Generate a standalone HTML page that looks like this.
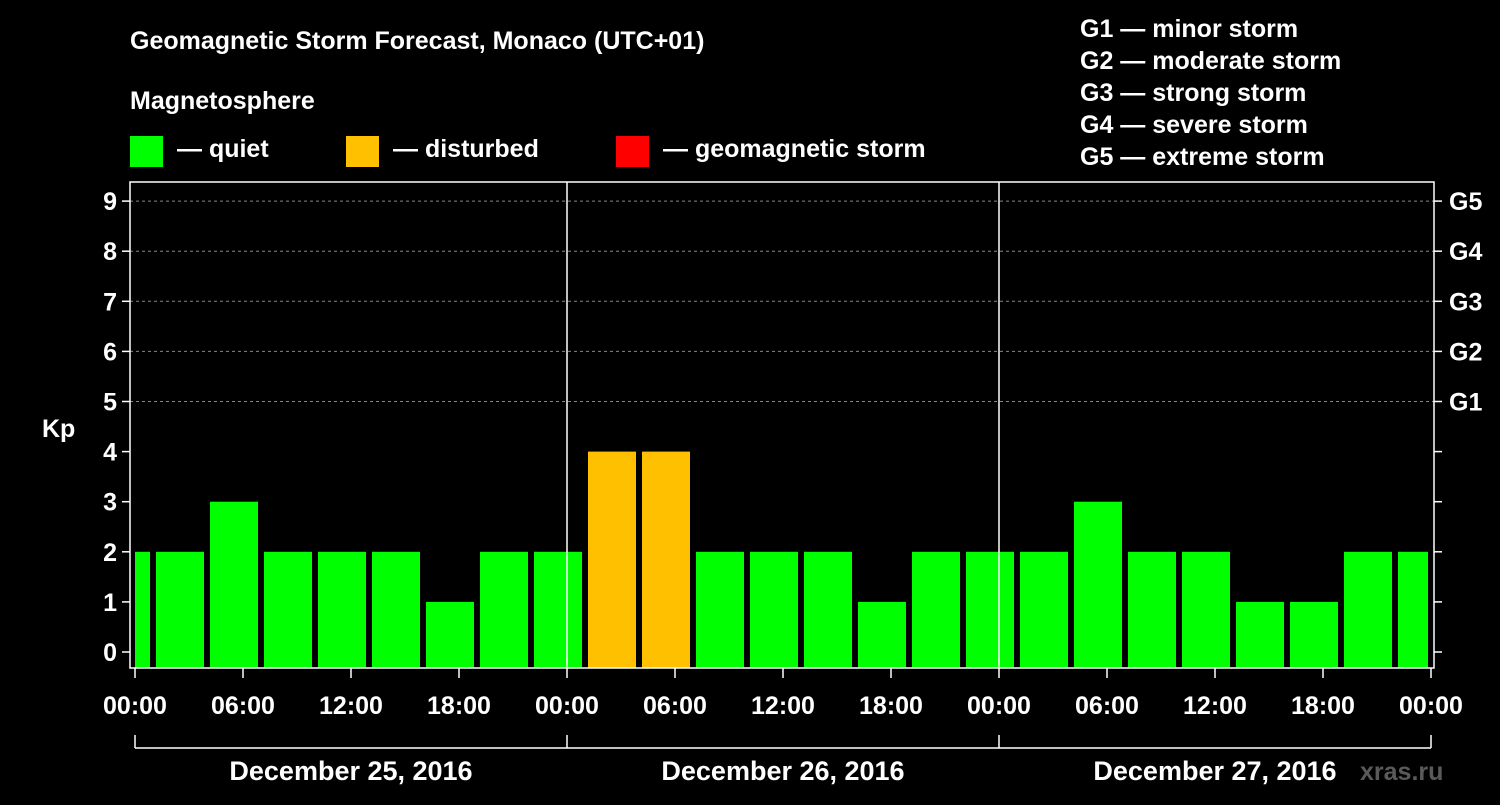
<!DOCTYPE html>
<html><head><meta charset="utf-8"><style>
body{margin:0;background:#000;width:1500px;height:800px;overflow:hidden;font-family:"Liberation Sans",sans-serif}
svg text{font-family:"Liberation Sans",sans-serif;font-weight:bold;fill:#fff}
</style></head><body>
<svg id="c" width="1500" height="800">
<text x="130" y="49" font-size="25">Geomagnetic Storm Forecast, Monaco (UTC+01)</text>
<text x="130" y="109" font-size="25">Magnetosphere</text>
<rect x="130" y="136" width="33" height="31" fill="#00ff00"/>
<text x="177" y="157" font-size="25">— quiet</text>
<rect x="346" y="136" width="33" height="31" fill="#ffc000"/>
<text x="393" y="157" font-size="25">— disturbed</text>
<rect x="616" y="136" width="33" height="31" fill="#ff0000"/>
<text x="663" y="157" font-size="25">— geomagnetic storm</text>
<g font-size="25">
<text x="1080" y="37">G1 — minor storm</text>
<text x="1080" y="69">G2 — moderate storm</text>
<text x="1080" y="101">G3 — strong storm</text>
<text x="1080" y="133">G4 — severe storm</text>
<text x="1080" y="165">G5 — extreme storm</text>
</g>
<text x="42" y="437" font-size="25">Kp</text>
<text x="1360" y="780" font-size="25" fill="#666" style="fill:#5a5a5a">xras.ru</text>
<g id="plot"></g>
</svg>
<script>
const values=[2,2,3,2,2,2,1,2,2,4,4,2,2,2,1,2,2,2,3,2,2,1,1,2,2];
const days=["December 25, 2016","December 26, 2016","December 27, 2016"];
const kpTicks=[0,1,2,3,4,5,6,7,8,9];
const gLabels=["G1","G2","G3","G4","G5"];
const timeLabels=["00:00","06:00","12:00","18:00"];
const NS="http://www.w3.org/2000/svg";
const g=document.getElementById('plot');
const X0=135,PXH=18,L=130,R=1434,T=182,B=668;
const x=h=>X0+h*PXH;
const y=v=>652-v*50.1;
function el(t,a){const e=document.createElementNS(NS,t);for(const k in a)e.setAttribute(k,a[k]);g.appendChild(e);return e;}
// grid
kpTicks.forEach(v=>{
 if(v>=5){const l=el('line',{x1:L,x2:R,y1:y(v),y2:y(v),stroke:'#888','stroke-dasharray':'3,3','stroke-width':1});
 
 }
 const t=el('line',{x1:L-8,x2:L,y1:y(v),y2:y(v),stroke:'#fff','stroke-width':1.5});
 
 
 const t2=el('line',{x1:R,x2:R+8,y1:y(v),y2:y(v),stroke:'#fff','stroke-width':1.5});
 
 
 const tx=el('text',{x:L-13,y:y(v)+9,'text-anchor':'end','font-size':25});
 tx.textContent=v;
 
 
});
gLabels.forEach((s,i)=>{
 const tx=el('text',{x:1449,y:y(5+i)+9,'font-size':25});
 tx.textContent=s;
 
 
});
// bars
values.forEach((v,i)=>{
 const c=-0.5+3*i;
 let a=x(c)-24,b=x(c)+24;
 a=Math.max(a,X0);b=Math.min(b,1428);
 const r=el('rect',{x:a,y:y(v),width:b-a,height:B-y(v),fill:v>=5?'#ff0000':(v>=4?'#ffc000':'#00ff00')});
 
 
});
// day separators
[1,2].forEach(d=>{
 const l=el('line',{x1:x(24*d),x2:x(24*d),y1:T,y2:B,stroke:'#fff','stroke-width':1.5});
 
 
});
const f=el('rect',{x:L,y:T,width:R-L,height:B-T,fill:'none',stroke:'#fff','stroke-width':1.5});


// x ticks
for(let h=0;h<=72;h+=6){
 const t=el('line',{x1:x(h),x2:x(h),y1:B,y2:B+10,stroke:'#fff','stroke-width':1.5});
 
 
 const tx=el('text',{x:x(h),y:714,'text-anchor':'middle','font-size':25});
 tx.textContent=timeLabels[(h/6)%4];
 
 
}
const br=el('line',{x1:x(0),x2:x(72),y1:748,y2:748,stroke:'#fff','stroke-width':1.5});


for(let d=0;d<=3;d++){
 const t=el('line',{x1:x(24*d),x2:x(24*d),y1:735,y2:748,stroke:'#fff','stroke-width':1.5});
 
 
}
days.forEach((s,i)=>{
 const tx=el('text',{x:x(24*i+12),y:780,'text-anchor':'middle','font-size':27});
 tx.textContent=s;
 
 
});
</script>
</body></html>
